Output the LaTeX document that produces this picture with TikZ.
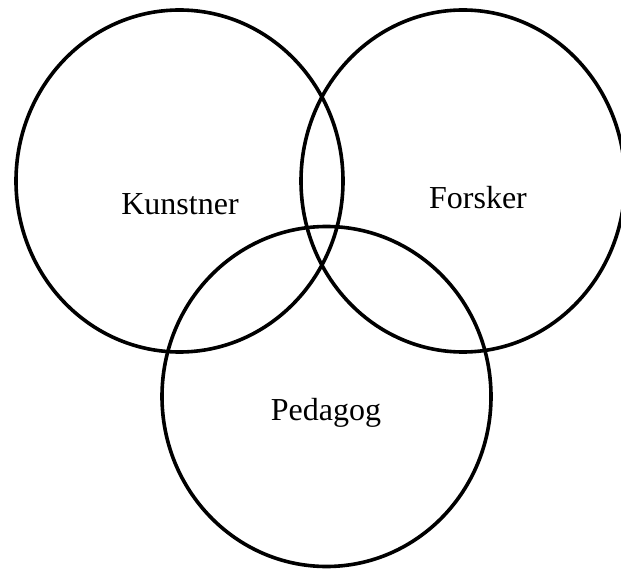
\documentclass[tikz,border=0pt]{standalone}
\usepackage{fontspec}
\setmainfont{Liberation Serif}
\begin{document}
\begin{tikzpicture}[x=1pt,y=-1pt,
  ring/.style={draw=black,line width=3.6pt},
  lbl/.style={font=\fontsize{32}{38}\selectfont,inner sep=0pt,anchor=center}]
\useasboundingbox (0,0) rectangle (621,569);
\begin{scope}
\clip (0,0) rectangle (621,569);
\draw[ring] (179.5,181) ellipse [x radius=163.5, y radius=171];
\draw[ring] (463,181) ellipse [x radius=162, y radius=171];
\draw[ring] (326.5,396.5) ellipse [x radius=164.5, y radius=170];
\end{scope}
\node[lbl] (k) at (180,204) {Kunstner};
\node[lbl] (f) at (478,198) {Forsker};
\node[lbl] (p) at (326,413) {Pedagog};
\end{tikzpicture}
\end{document}
